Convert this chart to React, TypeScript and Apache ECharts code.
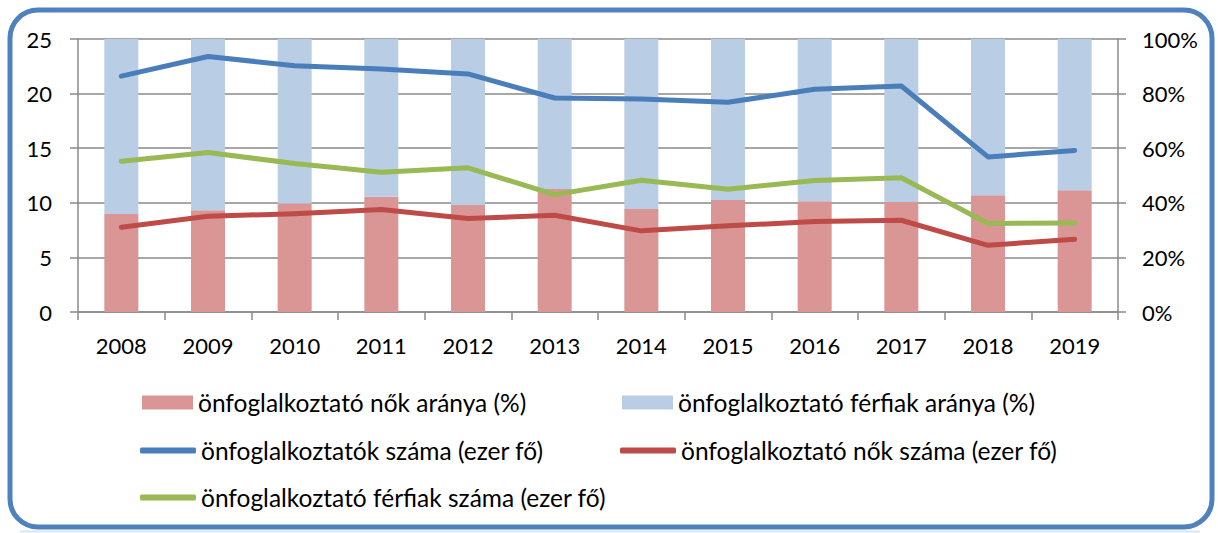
import React, { useEffect, useRef } from "react";
import * as echarts from "echarts";

const years = ["2008", "2009", "2010", "2011", "2012", "2013", "2014", "2015", "2016", "2017", "2018", "2019"];
const womenShare = [35.9, 37.3, 39.7, 42.2, 39.2, 45.1, 37.7, 41.0, 40.6, 40.3, 42.8, 44.6];
const menShare = womenShare.map((v) => +(100 - v).toFixed(1));
const totalCount = [21.6, 23.4, 22.55, 22.25, 21.8, 19.6, 19.5, 19.2, 20.4, 20.7, 14.2, 14.8];
const womenCount = [7.76, 8.77, 9.0, 9.38, 8.56, 8.86, 7.43, 7.89, 8.28, 8.4, 6.11, 6.66];
const menCount = [13.8, 14.6, 13.6, 12.8, 13.2, 10.75, 12.07, 11.25, 12.04, 12.3, 8.1, 8.16];

const names = [
  "önfoglalkoztató nők aránya (%)",
  "önfoglalkoztató férfiak aránya (%)",
  "önfoglalkoztatók száma (ezer fő)",
  "önfoglalkoztató nők száma (ezer fő)",
  "önfoglalkoztató férfiak száma (ezer fő)",
];

const FONT = "Lato";
const GRID_COLOR = "#8a8a8a";

export default function App() {
  const ref = useRef<HTMLDivElement>(null);
  useEffect(() => {
    const chart = echarts.init(ref.current!, null, { renderer: "svg" });
    const legendText = { fontFamily: FONT, fontSize: 24.5, color: "#000" };
    const mkLegend = (name: string, left: number, top: number, bar: boolean) => ({
      data: [name],
      left,
      top,
      padding: 0,
      icon: bar ? "rect" : "roundRect",
      itemWidth: bar ? 51 : 56,
      itemHeight: bar ? 14 : 6,
      textStyle: legendText,
      selectedMode: false,
    });
    chart.setOption({
      animation: false,
      backgroundColor: "#fff",
      grid: { left: 78, right: 100, top: 39, bottom: 221 },
      legend: [
        mkLegend(names[0], 142, 390, true),
        mkLegend(names[1], 622, 390, true),
        mkLegend(names[2], 140, 438, false),
        mkLegend(names[3], 620, 438, false),
        mkLegend(names[4], 140, 485, false),
      ],
      graphic: [
        {
          type: "line",
          shape: { x1: 20, y1: 531.5, x2: 1200, y2: 531.5 },
          style: { stroke: "#dce6f2", lineWidth: 2 },
          silent: true,
        },
        {
          type: "rect",
          shape: { x: 10, y: 10, width: 1202, height: 517, r: 28 },
          style: { fill: "none", stroke: "#4f81bd", lineWidth: 5 },
          silent: true,
        },
      ],
      xAxis: {
        type: "category",
        data: years,
        boundaryGap: true,
        axisLine: { lineStyle: { color: GRID_COLOR, width: 1.5 } },
        axisTick: { show: true, length: 8, lineStyle: { color: GRID_COLOR, width: 1.5 } },
        axisLabel: { fontFamily: FONT, fontSize: 22, color: "#000", margin: 22 },
      },
      yAxis: [
        {
          type: "value",
          min: 0,
          max: 25,
          interval: 5,
          axisLine: { show: true, lineStyle: { color: GRID_COLOR, width: 1.5 } },
          axisTick: { show: true, length: 8, lineStyle: { color: GRID_COLOR, width: 1.5 } },
          splitLine: { show: true, lineStyle: { color: GRID_COLOR, width: 1.5 } },
          axisLabel: { fontFamily: FONT, fontSize: 22, color: "#000", margin: 26 },
        },
        {
          type: "value",
          min: 0,
          max: 100,
          interval: 20,
          position: "right",
          axisLine: { show: true, lineStyle: { color: GRID_COLOR, width: 1.5 } },
          axisTick: { show: true, length: 8, lineStyle: { color: GRID_COLOR, width: 1.5 } },
          splitLine: { show: false },
          axisLabel: { fontFamily: FONT, fontSize: 22, color: "#000", margin: 24, formatter: "{value}%" },
        },
      ],
      series: [
        {
          name: names[0],
          type: "bar",
          yAxisIndex: 1,
          stack: "share",
          barWidth: 34,
          data: womenShare,
          itemStyle: { color: "#d99694" },
        },
        {
          name: names[1],
          type: "bar",
          yAxisIndex: 1,
          stack: "share",
          barWidth: 34,
          data: menShare,
          itemStyle: { color: "#b9cde5" },
        },
        {
          name: names[2],
          type: "line",
          yAxisIndex: 0,
          data: totalCount,
          showSymbol: false,
          symbol: "none",
          lineStyle: { color: "#4a7ebb", width: 5, cap: "round", join: "round" },
          itemStyle: { color: "#4a7ebb" },
        },
        {
          name: names[3],
          type: "line",
          yAxisIndex: 0,
          data: womenCount,
          showSymbol: false,
          symbol: "none",
          lineStyle: { color: "#be4b48", width: 5, cap: "round", join: "round" },
          itemStyle: { color: "#be4b48" },
        },
        {
          name: names[4],
          type: "line",
          yAxisIndex: 0,
          data: menCount,
          showSymbol: false,
          symbol: "none",
          lineStyle: { color: "#98b954", width: 5, cap: "round", join: "round" },
          itemStyle: { color: "#98b954" },
        },
      ],
    });
    return () => chart.dispose();
  }, []);
  return (
    <div
      ref={ref}
      style={{ position: "absolute", left: 0, top: 0, width: 1218, height: 533 }}
    />
  );
}
